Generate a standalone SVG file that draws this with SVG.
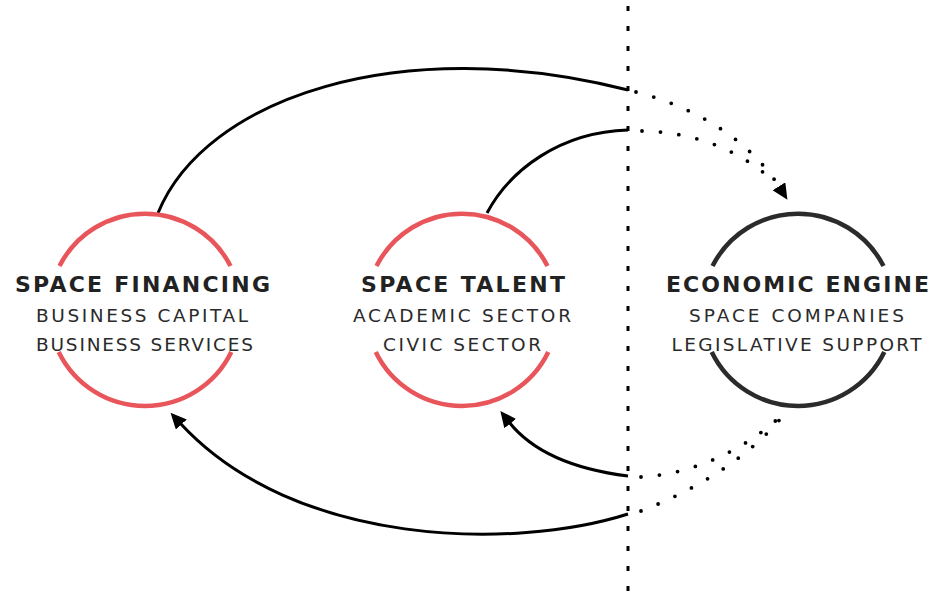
<svg xmlns="http://www.w3.org/2000/svg" width="944" height="595" viewBox="0 0 944 595">
  <style>
    .ring-red { fill: none; stroke: #E8555B; stroke-width: 4.5; }
    .ring-dark { fill: none; stroke: #2b2b2b; stroke-width: 4.5; }
    .conn { fill: none; stroke: #000; stroke-width: 3; }
    .dots { fill: none; stroke: #000; stroke-width: 3.8; stroke-linecap: round; stroke-dasharray: 0 18.5; }
    .vline { fill: none; stroke: #000; stroke-width: 3; stroke-dasharray: 5 15; }
    .title { font-family: "DejaVu Sans", "Liberation Sans", sans-serif; font-weight: 700; font-size: 22px; fill: #222; text-anchor: middle; }
    .sub { font-family: "DejaVu Sans", "Liberation Sans", sans-serif; font-weight: 400; font-size: 18.5px; fill: #2a2a2a; text-anchor: middle; }
  </style>
  <defs>
    <marker id="arrow" markerUnits="userSpaceOnUse" markerWidth="20" markerHeight="18" refX="2" refY="7.5" orient="auto">
      <path d="M0,0 L16,7.5 L0,15 z" fill="#000"/>
    </marker>
  </defs>
  <rect width="944" height="595" fill="#fff"/>

  <g id="connectors">
    <line class="vline" x1="628" y1="6" x2="628" y2="595"/>
    <path class="conn" d="M158,213 C205,98 400,32 628,90"/>
    <path class="conn" d="M487,213 C510,170 560,132 628,130"/>
    <path class="conn" d="M628,476 C580,470 535,455 509,422" marker-end="url(#arrow)"/>
    <path class="conn" d="M628,514 C515,550 295,548 180,423" marker-end="url(#arrow)"/>
    <path class="dots" d="M636,92 C695,107 750,140 780,188" marker-end="url(#arrow)"/>
    <path class="dots" d="M642,131 C695,132 738,150 770,178"/>
    <path class="dots" d="M641,477 C695,474 748,448 784,413"/>
    <path class="dots" d="M641,511 C695,490 750,458 786,412"/>
  </g>

  <g id="space-financing">
    <path class="ring-red" d="M59.5,266 A96,96 0 0 1 230.5,266"/>
    <path class="ring-red" d="M231.3,352 A96,96 0 0 1 58.7,352"/>
    <text class="title" x="142.5" y="292" textLength="255" lengthAdjust="spacing">SPACE FINANCING</text>
    <text class="sub" x="142" y="322" textLength="212" lengthAdjust="spacing">BUSINESS CAPITAL</text>
    <text class="sub" x="144.5" y="351" textLength="217" lengthAdjust="spacing">BUSINESS SERVICES</text>
  </g>

  <g id="space-talent">
    <path class="ring-red" d="M376.5,266 A96,96 0 0 1 547.5,266"/>
    <path class="ring-red" d="M548.3,352 A96,96 0 0 1 375.7,352"/>
    <text class="title" x="463" y="292" textLength="204" lengthAdjust="spacing">SPACE TALENT</text>
    <text class="sub" x="462" y="322" textLength="218" lengthAdjust="spacing">ACADEMIC SECTOR</text>
    <text class="sub" x="462" y="351" textLength="158" lengthAdjust="spacing">CIVIC SECTOR</text>
  </g>

  <g id="economic-engine">
    <path class="ring-dark" d="M712.5,266 A96,96 0 0 1 883.5,266"/>
    <path class="ring-dark" d="M884.3,352 A96,96 0 0 1 711.7,352"/>
    <text class="title" x="797.5" y="292" textLength="263" lengthAdjust="spacing">ECONOMIC ENGINE</text>
    <text class="sub" x="796.5" y="322" textLength="215" lengthAdjust="spacing">SPACE COMPANIES</text>
    <text class="sub" x="796.5" y="351" textLength="250" lengthAdjust="spacing">LEGISLATIVE SUPPORT</text>
  </g>
</svg>
